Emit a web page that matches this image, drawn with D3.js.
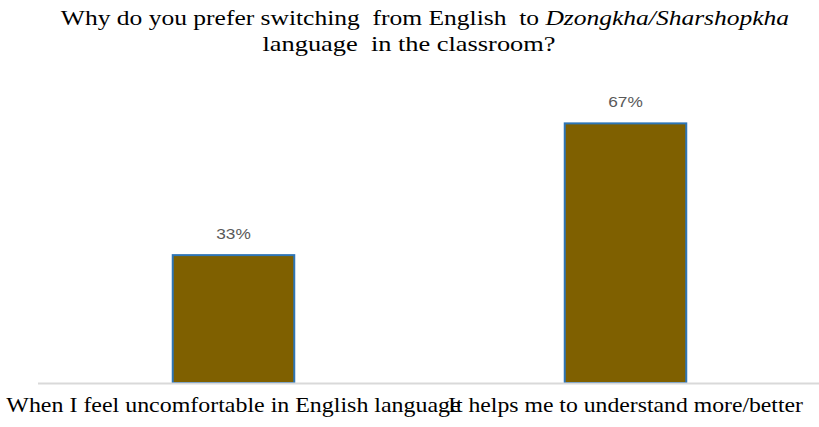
<!DOCTYPE html>
<html>
<head>
<meta charset="utf-8">
<script src="https://cdn.jsdelivr.net/npm/d3@7"></script>
<style>
  html, body { margin: 0; padding: 0; background: #fff; }
  svg { display: block; }
  .serif { font-family: "Liberation Serif", "Times New Roman", serif; }
  .sans { font-family: "Liberation Sans", Arial, sans-serif; }
</style>
</head>
<body>
<svg id="chart" width="819" height="427"></svg>
<script>
// Survey answers and their shares
const categories = [
  "When I feel uncomfortable in English language",
  "It helps me to understand more/better"
];
const shares = [0.33, 0.67];
const valueLabels = ["33%", "67%"];

const svg = d3.select("#chart");

const x = d3.scaleBand()
  .domain(categories)
  .range([37.5, 821.5])
  .paddingInner(0.69)
  .paddingOuter(0.345);

const y = d3.scaleLinear()
  .domain([0, 0.8])
  .range([383, 73]);

// Widen a text element horizontally about its anchor x
function widen(sel, cx, k) {
  sel.attr("transform", `translate(${cx},0) scale(${k},1) translate(${-cx},0)`);
}

// Title, first line with the language names in italics
const t1 = svg.append("text")
  .attr("class", "serif")
  .attr("x", 425).attr("y", 25)
  .attr("text-anchor", "middle")
  .attr("font-size", 22)
  .attr("fill", "#000");
t1.append("tspan").text("Why do you prefer switching\u00a0 from English\u00a0 to ");
t1.append("tspan").attr("font-style", "italic").text("Dzongkha/Sharshopkha");
widen(t1, 425, 1.16);

const t2 = svg.append("text")
  .attr("class", "serif")
  .attr("x", 409).attr("y", 51)
  .attr("text-anchor", "middle")
  .attr("font-size", 22)
  .attr("fill", "#000")
  .text("language\u00a0 in the classroom?");
widen(t2, 409, 1.2);

// Bars
svg.append("g").selectAll("rect")
  .data(categories)
  .join("rect")
  .attr("x", d => x(d))
  .attr("y", (d, i) => y(shares[i]))
  .attr("width", x.bandwidth())
  .attr("height", (d, i) => y(0) - y(shares[i]))
  .attr("fill", "#7f6000")
  .attr("stroke", "#2e75b6")
  .attr("stroke-width", 2);

// Value labels
svg.append("g").selectAll("text")
  .data(categories)
  .join("text")
  .attr("class", "sans")
  .attr("x", d => x(d) + x.bandwidth() / 2)
  .attr("y", (d, i) => y(shares[i]) - 16)
  .attr("text-anchor", "middle")
  .attr("font-size", 15)
  .attr("fill", "#595959")
  .text((d, i) => valueLabels[i])
  .each(function(d) { widen(d3.select(this), x(d) + x.bandwidth() / 2, 1.15); });

// Category axis
const axis = d3.axisBottom(x).tickSize(0).tickPadding(14);
const gx = svg.append("g")
  .attr("transform", `translate(0,${y(0)})`)
  .call(axis);
gx.select(".domain")
  .attr("d", "M38,0.5H819")
  .attr("stroke", "#d9d9d9")
  .attr("stroke-width", 2);
gx.selectAll(".tick text")
  .attr("class", "serif")
  .attr("font-size", 21)
  .attr("fill", "#000")
  .each(function(d, i) { widen(d3.select(this), 0, i === 0 ? 1.14 : 1.13); });
</script>
</body>
</html>
